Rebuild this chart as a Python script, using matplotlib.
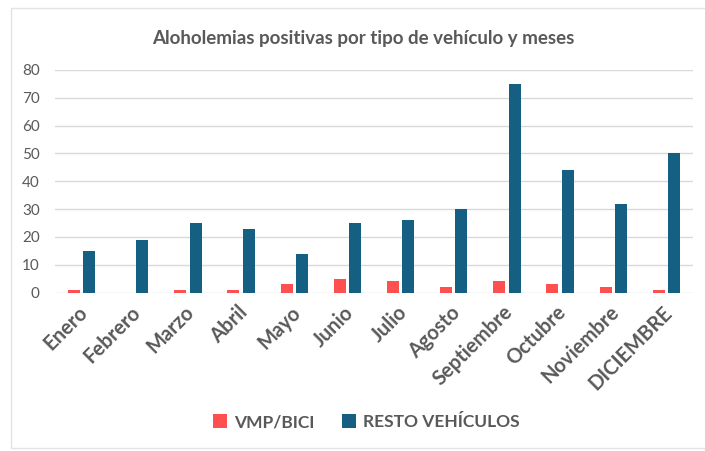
import numpy as np
import matplotlib.pyplot as plt
import matplotlib.transforms as mtransforms
from matplotlib.patches import Rectangle

meses = ["Enero", "Febrero", "Marzo", "Abril", "Mayo", "Junio", "Julio",
         "Agosto", "Septiembre", "Octubre", "Noviembre", "DICIEMBRE"]
vmp_bici = [1, 0, 1, 1, 3, 5, 4, 2, 4, 3, 2, 1]
resto_vehiculos = [15, 19, 25, 23, 14, 25, 26, 30, 75, 44, 32, 50]

plt.rcParams['font.family'] = ['Lato', 'DejaVu Sans']

fig = plt.figure(figsize=(7.05, 4.51), dpi=100)
# light frame round the chart (right edge runs off the picture)
fig.patches.append(Rectangle((11 / 705, 3 / 451), 700 / 705, 440 / 451,
                             transform=fig.transFigure, fill=False,
                             edgecolor='#E3E3E3', linewidth=1))

ax = fig.add_axes([0.078, 0.3514, 0.905, 0.4934])
x = np.arange(len(meses))
w = 0.225
off = 0.145
ax.bar(x - off, vmp_bici, w, color='#FF5050', label='VMP/BICI', zorder=3)
ax.bar(x + off, resto_vehiculos, w, color='#156082', label='RESTO VEHÍCULOS', zorder=3)

ax.set_xlim(-0.5, len(meses) - 0.5)
ax.set_ylim(0, 80)
ax.set_yticks(range(0, 81, 10))
ax.grid(axis='y', color='#D9D9D9', linewidth=1, zorder=0)
for s in ax.spines.values():
    s.set_visible(False)
ax.tick_params(length=0)
ax.tick_params(axis='y', labelsize=11, labelcolor='#595959', pad=11)
ax.set_xticks(x)
ax.set_xticklabels(meses, rotation=45, ha='right', va='top', rotation_mode='anchor',
                   fontsize=14.5, fontweight='bold', color='#595959')
ax.tick_params(axis='x', pad=7)
shift = mtransforms.ScaledTranslation(-4 / 100, 0, fig.dpi_scale_trans)
for lab in ax.get_xticklabels():
    lab.set_transform(lab.get_transform() + shift)

fig.text(0.515, 0.915, 'Aloholemias positivas por tipo de vehículo y meses',
         ha='center', va='center', fontsize=13.5, fontweight='bold', color='#595959')

fig.legend(loc='center', bbox_to_anchor=(0.52, 0.064), ncol=2, frameon=False,
           prop={'size': 12.5, 'weight': 'bold'}, labelcolor='#595959',
           handlelength=0.8, handleheight=0.8, handletextpad=0.4, columnspacing=1.6)

fig.savefig('out.png', dpi=100)
